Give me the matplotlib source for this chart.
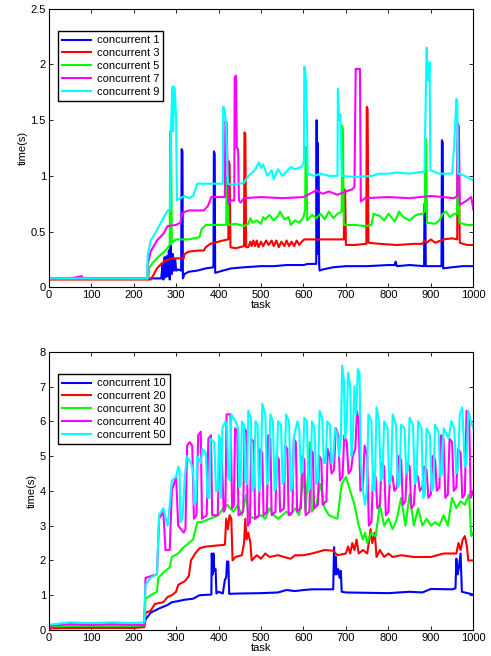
import numpy as np
import matplotlib
matplotlib.use('Agg')
import matplotlib.pyplot as plt

# time per task as (task, time) breakpoints
c1 = [(0,.08),(100,.08),(200,.08),(265,.08),(268,.2),(270,.07),(273,.27),(275,.09),(278,.28),(280,.1),(283,.33),(285,.07),
      (287,.38),(290,.12),(292,.3),(295,.15),(298,.25),(300,.15),(305,.16),(312,.15),(313,1.24),(315,1.22),(316,.08),(320,.12),
      (330,.14),(350,.15),(370,.17),(388,.18),(389,1.22),(391,1.2),(392,.13),(410,.15),(430,.17),(460,.18),(500,.19),(530,.19),
      (560,.2),(600,.2),(610,.21),(630,.21),(631,1.5),(632,.3),(633,1.3),(634,.4),(635,1.0),(637,.2),(638,.15),(645,.16),
      (670,.18),(700,.19),(750,.19),(800,.2),(815,.2),(817,.23),(820,.19),(850,.2),(884,.19),(885,.75),(887,.75),(888,.19),
      (925,.19),(926,1.32),(928,1.3),(929,.17),(950,.18),(975,.19),(1000,.19)]
c3 = [(0,.07),(100,.07),(200,.07),(240,.07),(245,.1),(255,.17),(265,.21),(275,.24),(290,.26),(318,.26),(320,.3),(330,.32),
      (350,.33),(365,.33),(370,.36),(380,.39),(390,.4),(410,.42),(423,.43),(424,1.13),(426,1.1),(428,.36),(440,.35),(460,.37),
      (461,1.39),(463,1.38),(465,.36),(470,.36),(475,.41),(478,.37),(482,.42),(486,.37),(490,.42),(494,.36),(500,.41),(505,.37),
      (512,.42),(518,.38),(525,.42),(530,.37),(536,.42),(542,.36),(548,.41),(555,.37),(560,.42),(566,.37),(572,.41),(578,.37),
      (584,.42),(590,.38),(596,.41),(602,.43),(650,.43),(695,.43),(696,.88),(698,.87),(700,.38),(720,.38),(748,.39),(749,1.62),
      (751,1.6),(753,.4),(780,.39),(820,.38),(860,.39),(880,.39),(885,.42),(890,.4),(900,.43),(910,.4),(930,.43),(950,.44),
      (962,.43),(963,1.13),(966,1.1),(968,.4),(985,.38),(1000,.38)]
c5 = [(0,.08),(100,.08),(200,.08),(235,.08),(236,.17),(245,.22),(260,.28),(275,.33),(285,.38),(286,1.4),(288,1.38),(290,.4),
      (300,.43),(330,.43),(355,.45),(360,.52),(370,.56),(418,.56),(419,1.0),(421,.98),(423,.56),(440,.57),(460,.55),(470,.57),
      (475,.62),(480,.58),(490,.6),(500,.57),(505,.63),(510,.61),(520,.65),(530,.6),(540,.64),(545,.68),(555,.61),(565,.63),
      (570,.56),(580,.6),(590,.58),(600,.63),(604,.7),(605,1.26),(607,1.2),(609,.6),(620,.65),(630,.62),(640,.66),(650,.61),
      (660,.68),(670,.62),(680,.66),(690,.68),(691,1.45),(693,1.4),(695,.56),(720,.56),(745,.55),(760,.56),(765,.66),(780,.64),
      (790,.6),(800,.66),(815,.59),(825,.68),(835,.63),(850,.6),(865,.65),(880,.66),(886,.68),(887,1.34),(889,1.3),(891,.58),
      (910,.57),(920,.6),(928,.66),(935,.68),(945,.63),(955,.66),(962,.66),(963,1.3),(965,1.25),(967,.58),(985,.56),(1000,.56)]
c7 = [(0,.08),(50,.08),(78,.1),(80,.08),(150,.08),(200,.08),(232,.08),(233,.2),(240,.32),(255,.42),(270,.48),(280,.55),
      (300,.56),(310,.58),(315,.67),(330,.69),(365,.69),(375,.73),(383,.81),(415,.81),(416,1.49),(419,1.48),(423,.75),(430,.78),
      (437,.78),(438,1.88),(441,1.9),(443,1.25),(446,1.24),(448,.78),(452,.76),(460,.8),(500,.81),(550,.8),(600,.81),(610,.83),
      (630,.87),(645,.84),(660,.86),(680,.83),(700,.86),(715,.88),(720,.9),(723,1.96),(733,1.96),(735,.77),(745,.8),(800,.81),
      (850,.8),(900,.82),(955,.8),(962,.82),(963,1.47),(966,1.45),(968,.74),(985,.78),(995,.81),(1000,.7)]
c9 = [(0,.08),(100,.08),(200,.08),(232,.08),(233,.28),(240,.42),(250,.48),(260,.55),(270,.62),(280,.69),(286,.7),(288,1.4),
      (291,1.8),(293,1.4),(295,1.8),(297,1.78),(300,1.5),(302,.78),(310,.8),(320,.82),(330,.8),(340,.82),(350,.93),(380,.93),
      (410,.93),(411,1.62),(414,1.6),(418,1.45),(422,.93),(430,.92),(450,.93),(460,.94),(470,1.0),(485,1.05),(495,1.12),
      (500,1.07),(505,1.1),(515,1.0),(525,1.05),(530,.97),(540,1.06),(550,1.0),(560,1.04),(570,1.08),(580,1.06),(595,1.08),
      (601,1.12),(602,1.98),(605,1.9),(608,1.55),(610,1.02),(625,1.0),(640,1.02),(660,1.0),(680,1.0),(681,1.78),(684,1.5),
      (687,1.55),(690,1.0),(720,.99),(760,1.0),(780,1.02),(800,1.02),(820,1.03),(850,1.02),(885,1.04),(890,2.15),(893,1.88),
      (895,1.85),(897,2.02),(899,1.05),(920,1.02),(950,1.02),(955,1.28),(960,1.69),(962,1.68),(964,1.02),(980,1.0),(1000,.96)]

c10 = [(0,.05),(50,.08),(100,.08),(200,.08),(225,.1),(228,.3),(240,.5),(260,.62),(280,.72),(290,.8),(300,.82),(320,.87),
       (340,.9),(355,1.0),(383,1.02),(384,2.2),(386,1.6),(388,2.2),(390,1.7),(393,1.75),(395,1.05),(400,1.1),(410,1.05),
       (415,1.45),(418,1.5),(420,1.97),(423,1.97),(425,1.04),(450,1.05),(500,1.06),(540,1.08),(560,1.15),(580,1.12),(600,1.15),
       (620,1.17),(670,1.17),(672,2.38),(674,1.6),(676,2.1),(678,1.6),(682,1.75),(685,1.5),(688,1.7),(690,1.1),(700,1.08),
       (750,1.07),(800,1.06),(850,1.1),(880,1.08),(900,1.18),(950,1.17),(958,1.2),(960,2.05),(963,1.6),(966,1.8),(970,2.2),
       (973,1.1),(990,1.05),(1000,1.02)]
c20 = [(0,.05),(100,.06),(200,.06),(225,.08),(228,.5),(240,.55),(250,.75),(270,.8),(280,.95),(290,1.0),(300,1.1),(305,1.3),
       (320,1.4),(330,1.55),(335,2.0),(345,2.2),(355,2.35),(370,2.4),(415,2.45),(418,3.2),(422,2.9),(426,3.3),(430,3.2),
       (433,2.0),(440,2.1),(455,2.15),(460,2.5),(463,3.2),(466,2.6),(470,2.8),(475,2.5),(478,2.0),(490,2.15),(500,2.05),
       (510,2.2),(520,2.1),(540,2.15),(560,2.08),(570,2.05),(580,2.15),(600,2.15),(620,2.2),(650,2.3),(670,2.28),(680,2.15),
       (700,2.2),(705,2.4),(710,2.2),(715,2.5),(720,2.3),(725,2.6),(730,2.2),(740,2.3),(750,2.2),(755,2.6),(758,2.9),(762,2.5),
       (768,2.8),(772,2.1),(780,2.3),(790,2.1),(800,2.2),(810,2.1),(830,2.15),(860,2.1),(900,2.1),(930,2.2),(960,2.2),
       (965,2.5),(970,2.3),(975,2.6),(980,2.7),(985,2.4),(988,2.0),(1000,2.0)]
c30 = [(0,.1),(50,.12),(200,.12),(225,.13),(228,.9),(240,1.0),(255,1.1),(258,1.5),(270,1.65),(285,1.8),(290,2.1),(305,2.2),
       (315,2.35),(325,2.45),(340,2.6),(350,3.1),(360,3.1),(380,3.2),(400,3.3),(410,3.5),(420,3.6),(435,3.4),(445,3.6),
       (455,3.3),(465,3.9),(470,3.3),(485,3.2),(500,3.3),(510,3.2),(520,3.5),(530,3.3),(540,3.2),(560,3.4),(570,3.3),(580,3.5),
       (590,3.3),(600,4.5),(605,3.4),(615,5.4),(620,3.4),(630,3.6),(640,4.2),(650,3.5),(660,3.3),(680,3.2),(690,4.2),(700,4.4),
       (710,4.0),(720,3.6),(730,3.0),(740,2.6),(745,2.8),(750,2.5),(760,2.8),(770,2.7),(780,3.6),(790,3.0),(800,3.2),(810,2.9),
       (820,3.2),(830,3.8),(840,3.0),(850,3.9),(860,3.0),(870,3.5),(880,3.0),(890,3.2),(900,3.0),(910,3.1),(920,3.0),(930,3.3),
       (940,3.0),(950,3.8),(960,3.5),(970,3.7),(980,3.6),(990,3.9),(995,2.7),(1000,2.8)]
c40 = [(0,.12),(50,.17),(100,.15),(150,.17),(200,.15),(225,.15),(228,1.5),(255,1.6),(260,3.2),(270,3.4),(275,2.3),(285,2.3),
       (290,4.0),(300,4.4),(305,3.0),(318,2.8),(322,2.9),(326,5.3),(332,5.4),(338,5.3),(342,3.2),(348,3.3),(352,5.6),(358,5.7),
       (361,3.2),(372,3.3),(376,5.5),(382,5.6),(385,3.3),(398,3.3),(402,5.0),(408,4.9),(412,3.4),(416,3.5),(419,6.2),(428,6.2),
       (432,3.5),(436,3.6),(439,5.8),(444,5.7),(447,3.3),(458,3.4),(461,5.8),(466,5.7),(469,3.0),(474,3.1),(477,5.5),(483,5.4),
       (486,3.2),(495,3.3),(498,5.2),(503,5.1),(506,3.3),(514,3.4),(517,5.6),(522,5.5),(525,3.3),(534,3.4),(537,5.0),(542,4.9),
       (545,3.4),(554,3.5),(557,5.3),(562,5.2),(565,3.3),(574,3.4),(577,5.5),(582,5.4),(585,3.4),(594,3.5),(597,5.0),(602,4.9),
       (605,3.3),(614,3.4),(617,5.2),(622,5.1),(625,3.5),(634,3.6),(637,5.0),(642,4.9),(645,3.6),(654,3.7),(657,5.2),(662,5.0),
       (666,4.5),(672,4.6),(676,5.8),(682,5.6),(686,4.3),(692,4.4),(696,5.6),(702,5.4),(706,4.5),(712,4.6),(716,5.0),(722,5.2),
       (726,6.3),(730,6.0),(734,4.0),(740,4.1),(744,5.3),(750,5.0),(754,3.0),(760,3.1),(764,4.5),(770,4.4),(774,3.5),(780,3.6),
       (784,4.8),(790,4.7),(794,3.3),(800,3.4),(804,4.5),(810,4.4),(814,4.0),(820,4.1),(824,5.0),(830,4.9),(834,3.6),(840,3.7),
       (844,4.8),(850,4.7),(854,3.5),(860,3.6),(864,4.5),(870,4.4),(874,4.0),(880,4.1),(884,4.7),(890,4.6),(894,3.8),(900,3.9),
       (904,5.0),(910,4.9),(914,4.0),(920,4.1),(924,5.6),(930,5.5),(934,3.8),(940,3.9),(944,5.5),(950,5.4),(954,4.0),(960,4.1),
       (964,5.2),(970,5.1),(974,3.8),(980,3.9),(984,6.3),(990,6.2),(994,3.8),(1000,4.0)]
c50 = [(0,.15),(50,.22),(100,.2),(150,.22),(200,.2),(225,.22),(228,1.3),(240,1.5),(255,1.6),(260,3.3),(270,3.5),(280,3.0),
       (285,3.6),(290,4.3),(300,4.4),(305,4.7),(308,4.6),(310,3.1),(315,3.2),(320,4.3),(325,5.0),(335,4.8),(340,4.6),(343,3.6),
       (347,3.7),(350,5.0),(358,4.8),(362,5.2),(370,5.1),(374,3.8),(378,3.8),(381,5.5),(390,5.4),(394,4.0),(398,4.0),(401,5.6),
       (404,5.5),(406,3.8),(409,5.8),(416,6.0),(420,5.9),(423,4.4),(427,4.3),(430,6.2),(440,6.0),(446,5.8),(449,4.1),(452,4.2),
       (455,6.0),(460,5.9),(463,4.3),(467,4.2),(470,6.3),(476,6.1),(479,4.0),(483,4.1),(487,6.0),(492,5.9),(495,4.0),(499,4.2),
       (503,6.5),(510,6.2),(514,4.2),(518,4.3),(522,6.2),(528,6.0),(532,4.0),(536,4.1),(540,6.0),(547,5.9),(551,4.2),(555,4.3),
       (559,6.2),(566,6.0),(570,4.0),(574,4.1),(578,5.6),(586,6.0),(590,5.8),(594,4.5),(598,4.6),(602,6.1),(608,6.0),(612,4.0),
       (616,4.1),(620,6.0),(626,5.8),(630,4.2),(634,4.3),(638,6.3),(644,6.1),(648,4.8),(652,4.8),(656,6.0),(662,5.9),(666,4.8),
       (670,4.9),(674,5.8),(680,5.6),(684,5.0),(688,5.5),(691,7.6),(695,7.2),(698,5.5),(702,6.0),(705,7.4),(710,7.0),(713,5.0),
       (716,5.5),(720,7.0),(724,6.2),(728,7.5),(732,7.4),(735,4.8),(740,4.0),(745,3.6),(749,4.0),(753,6.2),(760,6.0),(764,4.0),
       (768,4.1),(772,6.4),(778,6.0),(782,4.3),(786,4.4),(790,6.0),(798,5.8),(802,4.2),(806,4.3),(810,6.2),(818,5.9),(822,4.1),
       (826,4.2),(830,5.9),(838,5.8),(842,4.5),(846,4.6),(850,6.1),(858,5.9),(862,4.2),(866,4.3),(870,6.0),(878,5.8),(882,3.8),
       (886,3.9),(890,5.8),(898,5.6),(902,4.0),(906,4.1),(910,5.9),(918,5.7),(922,4.4),(926,4.5),(930,5.8),(938,5.6),(942,5.5),
       (948,6.0),(955,5.8),(960,4.5),(964,4.6),(968,6.2),(974,6.4),(980,4.7),(984,4.8),(988,6.3),(994,6.0),(1000,5.8)]

top_series = [c1, c3, c5, c7, c9]
top_labels = ['concurrent 1', 'concurrent 3', 'concurrent 5', 'concurrent 7', 'concurrent 9']
bot_series = [c10, c20, c30, c40, c50]
bot_labels = ['concurrent 10', 'concurrent 20', 'concurrent 30', 'concurrent 40', 'concurrent 50']
colors = ['#0000ff', '#ff0000', '#00ff00', '#ff00ff', '#00ffff']

plt.rcParams['font.family'] = ['Liberation Sans', 'DejaVu Sans']
plt.rcParams['font.size'] = 8

fig = plt.figure(figsize=(4.91, 6.56), dpi=100)
ax1 = fig.add_axes([0.0992, 0.562, 0.8648, 0.4247])
ax2 = fig.add_axes([0.0992, 0.0396, 0.8648, 0.4242])


def draw(ax, series, labels, ymax, yticks, yticklabels):
    for s, lab, col in zip(series, labels, colors):
        d = np.array(s)
        ax.plot(d[:, 0], d[:, 1], color=col, lw=1.5, label=lab)
    ax.set_xlim(0, 1000)
    ax.set_ylim(0, ymax)
    ax.set_xticks(np.arange(0, 1001, 100))
    ax.set_yticks(yticks)
    ax.set_yticklabels(yticklabels)
    ax.tick_params(direction='in', top=True, right=True, length=3, width=0.6, pad=2, labelsize=8)
    for sp in ax.spines.values():
        sp.set_linewidth(0.8)
    ax.set_xlabel('task', fontsize=8, labelpad=0)
    ax.set_ylabel('time(s)', fontsize=8, labelpad=2)
    leg = ax.legend(loc='upper left', bbox_to_anchor=(0.008, 0.94), fancybox=False, framealpha=1,
                    edgecolor='black', handlelength=2.6, handletextpad=0.5, borderpad=0.4,
                    labelspacing=0.25, fontsize=8)
    leg.get_frame().set_linewidth(1.0)


draw(ax1, top_series, top_labels, 2.5, [0, 0.5, 1, 1.5, 2, 2.5], ['0', '0.5', '1', '1.5', '2', '2.5'])
draw(ax2, bot_series, bot_labels, 8, range(9), [str(i) for i in range(9)])

fig.savefig('out.png', dpi=100)
